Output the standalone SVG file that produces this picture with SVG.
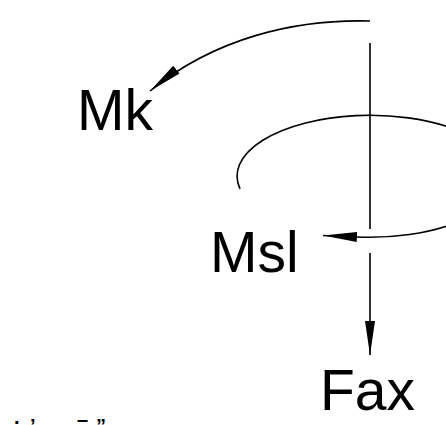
<svg xmlns="http://www.w3.org/2000/svg" width="446" height="425" viewBox="0 0 446 425">
<style>
.lbl{font-family:"Liberation Sans",Arial,sans-serif;font-size:57px;fill:#000}
.mark{font-family:"Liberation Sans",Arial,sans-serif;font-size:20px;font-weight:bold;fill:#000}
.edge{fill:none;stroke:#000;stroke-width:1.6}
</style>
<defs>
<marker id="arr" markerUnits="userSpaceOnUse" markerWidth="36" markerHeight="12" refX="34" refY="6" orient="auto" viewBox="0 0 36 12">
<path d="M0,1 L34,6 L0,11 Z" fill="#000"/>
</marker>
</defs>
<rect width="446" height="425" fill="#fff"/>
<g id="connectors">
<path class="edge" d="M370,21 C295,19 215,38 150,91" marker-end="url(#arr)"/>
<path class="edge" d="M240,189 A133,61 0 1 1 357,237 L323,235.5" marker-end="url(#arr)"/>
<path class="edge" d="M370,43 L370,229"/>
<path class="edge" d="M370,253 L370,355" marker-end="url(#arr)"/>
</g>
<g id="node-Mk"><text class="lbl" x="77" y="130">Mk</text></g>
<g id="node-Msl"><text class="lbl" x="210" y="272">Msl</text></g>
<g id="node-Fax"><text class="lbl" x="320" y="410">Fax</text></g>
<g id="bottom-text">
<text class="mark" x="14" y="423.5">.</text>
<text class="mark" x="30" y="433">’</text>
<text class="mark" x="77" y="426">–</text>
<text class="mark" x="96" y="433">”</text>
</g>
</svg>
